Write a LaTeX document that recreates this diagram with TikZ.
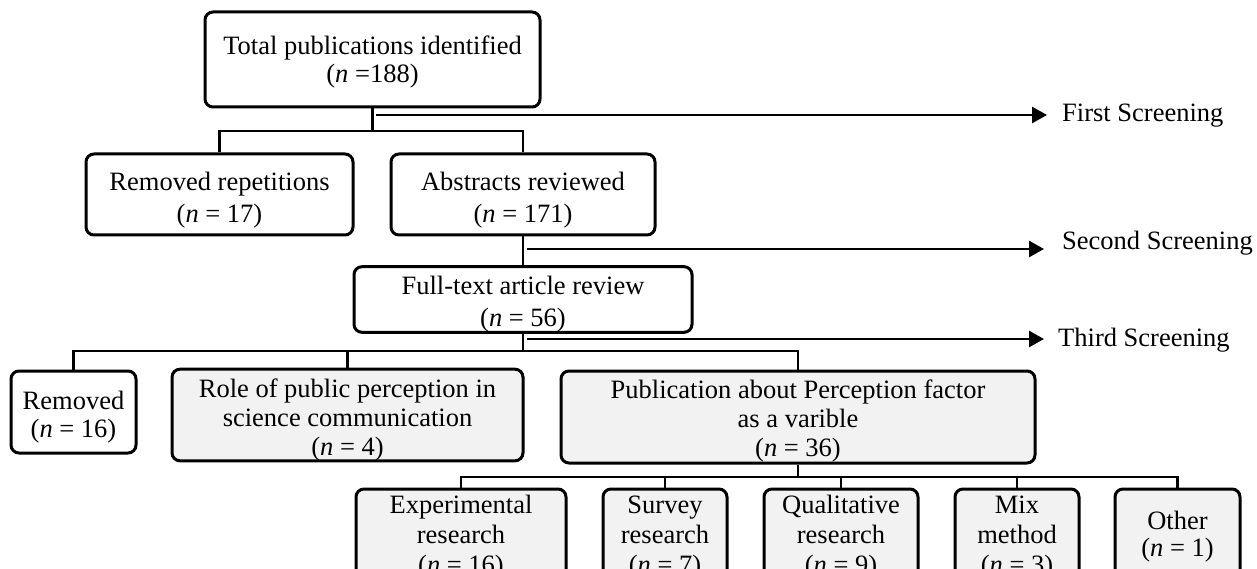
\documentclass[tikz,border=0pt]{standalone}
\usepackage{fontspec}
\setmainfont{Liberation Serif}
\usetikzlibrary{arrows.meta}
\newcommand\myfs[1]{\fontsize{26.5}{#1}\selectfont}
\newcommand\topst[1]{\rule{0pt}{#1pt}}
\definecolor{boxgrey}{HTML}{F2F2F2}
\begin{document}
\begin{tikzpicture}[x=1pt,y=-1pt,
  box/.style={draw, rounded corners=8pt, line width=3pt, align=center, inner sep=0pt, fill=white},
  gbox/.style={box, fill=boxgrey},
  conn/.style={line width=2.8pt},
  scr/.style={line width=2.8pt, -{Triangle[length=15pt,width=16pt]}},
  lab/.style={inner sep=0pt, anchor=base west, font=\myfs{30}}]
\useasboundingbox (0,0) rectangle (1257,569);
\clip (0,0) rectangle (1257,569);
% boxes
\node[box, minimum width=335pt, minimum height=95pt, font=\myfs{28}] (total) at (372.5,59.5)
  {\topst{24}Total publications identified\\(\textit{n} =188)};
\node[box, minimum width=267pt, minimum height=81pt, font=\myfs{32}] (remrep) at (219.5,194.5)
  {\topst{30}Removed repetitions\\(\textit{n} = 17)};
\node[box, minimum width=264pt, minimum height=81pt, font=\myfs{32}] (abstracts) at (523,194.5)
  {\topst{30}Abstracts reviewed\\(\textit{n} = 171)};
\node[box, minimum width=338pt, minimum height=63pt, font=\myfs{32}] (fulltext) at (523,299.5)
  {\topst{28}Full-text article review\\(\textit{n} = 56)};
\node[box, minimum width=125pt, minimum height=82pt, font=\myfs{28}] (removed) at (73.5,412)
  {\topst{28}Removed\\(\textit{n} = 16)};
\node[gbox, minimum width=351pt, minimum height=88pt, font=\myfs{29}] (role) at (347.5,415)
  {\topst{28}Role of public perception in\\science communication\\(\textit{n} = 4)};
\node[gbox, minimum width=474pt, minimum height=92pt, font=\myfs{29}] (pub) at (798,417)
  {\topst{26}Publication about Perception factor\\as a varible\\(\textit{n} = 36)};
\node[gbox, minimum width=210pt, minimum height=91pt, font=\myfs{30}] (exp) at (461,534.5)
  {\topst{24}Experimental\\research\\(\textit{n} = 16)};
\node[gbox, minimum width=124pt, minimum height=91pt, font=\myfs{30}] (survey) at (665,534.5)
  {\topst{24}Survey\\research\\(\textit{n} = 7)};
\node[gbox, minimum width=154pt, minimum height=91pt, font=\myfs{30}] (qual) at (841,534.5)
  {\topst{24}Qualitative\\research\\(\textit{n} = 9)};
\node[gbox, minimum width=124pt, minimum height=91pt, font=\myfs{30}] (mix) at (1017,534.5)
  {\topst{24}Mix\\method\\(\textit{n} = 3)};
\node[gbox, minimum width=125pt, minimum height=91pt, font=\myfs{27}] (other) at (1177.5,534.5)
  {\topst{22}Other\\(\textit{n} = 1)};
% junctions
\coordinate (j1) at (372.5,131);
\coordinate (j3) at (523,351);
\coordinate (j4) at (798,477);
% tree connectors
\draw[conn] (total.south) -- (j1);
\draw[conn] (j1) -| (remrep.north);
\draw[conn] (j1) -| (abstracts.north);
\draw[conn] (abstracts.south) -- (fulltext.north);
\draw[conn] (fulltext.south) -- (j3);
\draw[conn] (j3) -| (removed.north);
\draw[conn] (j3) -| (role.north);
\draw[conn] (j3) -| (pub.north);
\draw[conn] (pub.south) -- (j4);
\draw[conn] (j4) -| (exp.north);
\draw[conn] (j4) -| (survey.north);
\draw[conn] (j4) -| (qual.north);
\draw[conn] (j4) -| (mix.north);
\draw[conn] (j4) -| (other.north);
% screening labels and arrows
\node[lab] (l1) at (1062,122) {First Screening};
\node[lab] (l2) at (1062,249) {Second Screening};
\node[lab] (l3) at (1058,346) {Third Screening};
\coordinate (s1) at (376,115);
\coordinate (s2) at (527,249);
\coordinate (s3) at (527,339);
\draw[scr] (s1) -- ([xshift=-15pt]s1 -| l1.west);
\draw[scr] (s2) -- ([xshift=-18pt]s2 -| l2.west);
\draw[scr] (s3) -- ([xshift=-14pt]s3 -| l3.west);
\end{tikzpicture}
\end{document}
